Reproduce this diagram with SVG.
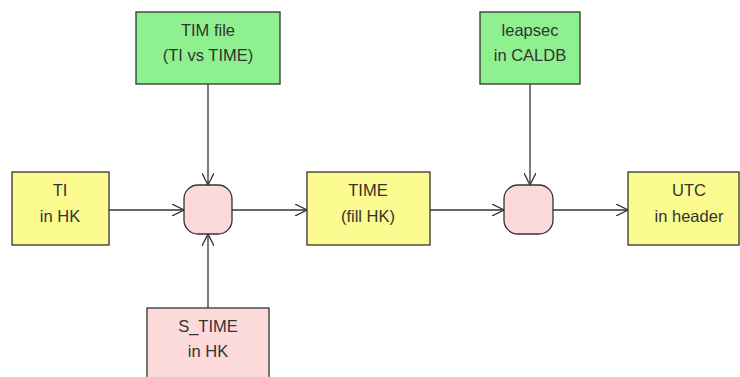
<svg xmlns="http://www.w3.org/2000/svg" width="740" height="377" viewBox="0 0 740 377">
  <style>
    .box { stroke: #333; stroke-width: 1.3; }
    .yellow { fill: #fbfb8f; }
    .green { fill: #8ff08f; }
    .pink { fill: #fddada; }
    .lbl { font-family: "Liberation Sans", Arial, sans-serif; font-size: 16.5px; fill: #333; text-anchor: middle; }
    .edge { stroke: #333; stroke-width: 1.3; fill: none; marker-end: url(#arrow); }
  </style>
  <defs>
    <marker id="arrow" viewBox="0 0 12 12" refX="12" refY="6" markerWidth="12" markerHeight="12" markerUnits="userSpaceOnUse" orient="auto">
      <path d="M0,0 L12,6 L0,12" fill="none" stroke="#333" stroke-width="1.3"/>
    </marker>
  </defs>
  <rect width="740" height="377" fill="#ffffff"/>

  <g id="connectors">
    <line class="edge" x1="109" y1="210" x2="184" y2="210"/>
    <line class="edge" x1="232" y1="210" x2="307" y2="210"/>
    <line class="edge" x1="430" y1="210" x2="504" y2="210"/>
    <line class="edge" x1="553" y1="210" x2="628" y2="210"/>
    <line class="edge" x1="208" y1="84" x2="208" y2="185"/>
    <line class="edge" x1="208" y1="308" x2="208" y2="234"/>
    <line class="edge" x1="530" y1="84" x2="530" y2="185"/>
  </g>

  <g id="tim-file">
    <rect class="box green" x="136" y="12" width="144" height="72"/>
    <text class="lbl" x="208" y="36">TIM file</text>
    <text class="lbl" x="208" y="61">(TI vs TIME)</text>
  </g>

  <g id="leapsec">
    <rect class="box green" x="480" y="12" width="100" height="72"/>
    <text class="lbl" x="530" y="36">leapsec</text>
    <text class="lbl" x="530" y="61">in CALDB</text>
  </g>

  <g id="ti-hk">
    <rect class="box yellow" x="12" y="172" width="97" height="73"/>
    <text class="lbl" x="60" y="196">TI</text>
    <text class="lbl" x="60" y="222">in HK</text>
  </g>

  <g id="junction-1">
    <rect class="box pink" x="184" y="185" width="48" height="49" rx="14" ry="14"/>
  </g>

  <g id="time-fill">
    <rect class="box yellow" x="307" y="172" width="123" height="73"/>
    <text class="lbl" x="368" y="196">TIME</text>
    <text class="lbl" x="368" y="222">(fill HK)</text>
  </g>

  <g id="junction-2">
    <rect class="box pink" x="504" y="185" width="49" height="49" rx="14" ry="14"/>
  </g>

  <g id="utc-header">
    <rect class="box yellow" x="628" y="172" width="111" height="73"/>
    <text class="lbl" x="689" y="196">UTC</text>
    <text class="lbl" x="689" y="222">in header</text>
  </g>

  <g id="s-time-hk">
    <rect class="box pink" x="147" y="308" width="122" height="80"/>
    <text class="lbl" x="208" y="332">S_TIME</text>
    <text class="lbl" x="208" y="357">in HK</text>
  </g>
</svg>
